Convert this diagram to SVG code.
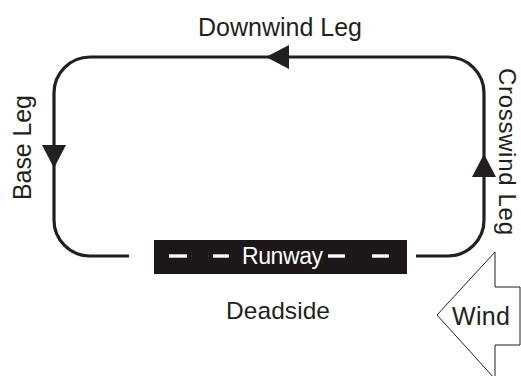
<svg xmlns="http://www.w3.org/2000/svg" width="521" height="376" viewBox="0 0 521 376">
<style>
.lbl{font-family:"Liberation Sans",Arial,sans-serif;fill:#231f20}
.loop{fill:none;stroke:#231f20;stroke-width:3.2}
.head{fill:#231f20;stroke:none}
.dash{fill:#fff}
</style>
<rect width="521" height="376" fill="#fff"/>
<g id="connectors">
<path class="loop" d="M129,256 H90 A36,36 0 0 1 54,220 V93 A36,36 0 0 1 90,57 H448 A36,36 0 0 1 484,93 V220 A36,36 0 0 1 448,256 H416"/>
<polygon class="head" points="266,57 289,45 289,69"/>
<polygon class="head" points="54,168 42,145 66,145"/>
<polygon class="head" points="484,154 472,177 496,177"/>
</g>
<g id="runway">
<rect x="154" y="240" width="253" height="34" fill="#1c1718"/>
<rect class="dash" x="169" y="254.3" width="18" height="3.4"/>
<rect class="dash" x="213" y="254.3" width="16" height="3.4"/>
<rect class="dash" x="328" y="254.3" width="17" height="3.4"/>
<rect class="dash" x="372" y="254.3" width="17" height="3.4"/>
<text x="242" y="264" font-size="23" class="lbl" style="fill:#fff" textLength="81">Runway</text>
</g>
<g id="wind">
<polygon points="437,315 495,252 495,287 520,287 520,345 495,345 495,379" fill="#fff" stroke="#231f20" stroke-width="1"/>
<text x="452" y="325" font-size="25" class="lbl" textLength="58">Wind</text>
</g>
<g id="downwind-leg">
<text x="198" y="36" font-size="25" class="lbl" textLength="164">Downwind Leg</text>
</g>
<g id="base-leg">
<text transform="translate(31,200) rotate(-90)" font-size="25" class="lbl" textLength="105">Base Leg</text>
</g>
<g id="crosswind-leg">
<text transform="translate(499,68) rotate(90)" font-size="24" class="lbl" textLength="167">Crosswind Leg</text>
</g>
<g id="deadside">
<text x="226" y="319" font-size="24.5" class="lbl" textLength="104">Deadside</text>
</g>
</svg>
